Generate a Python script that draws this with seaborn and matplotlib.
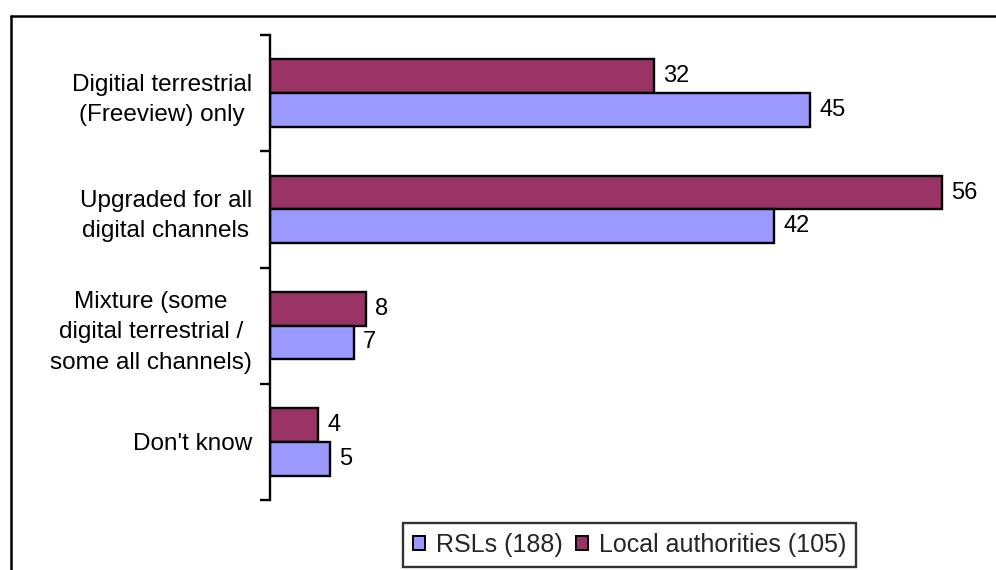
import matplotlib
matplotlib.use("Agg")
import matplotlib.pyplot as plt
from matplotlib.lines import Line2D
from matplotlib.patches import Patch
import pandas as pd
import seaborn as sns

categories = [
    "Digitial terrestrial\n(Freeview) only",
    "Upgraded for all\ndigital channels",
    "Mixture (some\ndigital terrestrial /\nsome all channels)",
    "Don't know",
]
series_names = ["Local authorities (105)", "RSLs (188)"]
local_authorities = [32, 56, 8, 4]
rsls = [45, 42, 7, 5]
colors = {"Local authorities (105)": "#993366", "RSLs (188)": "#9999FF"}

df = pd.DataFrame({
    "category": categories * 2,
    "series": [series_names[0]] * 4 + [series_names[1]] * 4,
    "value": local_authorities + rsls,
})

sns.set_theme(style="white")
plt.rcParams["font.family"] = ["Liberation Sans", "DejaVu Sans"]

W, H = 996, 570
fig = plt.figure(figsize=(W / 100, H / 100), dpi=100)
ax = fig.add_axes([270 / W, (H - 500) / H, 720 / W, 465 / H])

sns.barplot(data=df, y="category", x="value", hue="series",
            hue_order=series_names, order=categories, orient="h",
            palette=colors, saturation=1, width=0.58, edgecolor="black",
            linewidth=1.7, ax=ax, legend=False)

for cont in ax.containers:
    ax.bar_label(cont, padding=6.5, fontsize=17, color="black")

ax.set_xlim(0, 60)
ax.set_ylim(3.5, -0.5)
ax.set_xlabel("")
ax.set_ylabel("")
ax.set_xticks([])

# category labels at band centres, tick marks at band boundaries
ax.set_yticks(range(len(categories)))
ax.set_yticklabels(categories, fontsize=17.5, ha="right", multialignment="center",
                   color="black", linespacing=1.5)
ax.tick_params(axis="y", which="major", length=0, pad=13)
ax.set_yticks([-0.5, 0.5, 1.5, 2.5, 3.5], minor=True)
ax.tick_params(axis="y", which="minor", length=7, width=1.7, color="black",
               direction="out", left=True)

for side in ["top", "right", "bottom"]:
    ax.spines[side].set_visible(False)
ax.spines["left"].set_color("black")
ax.spines["left"].set_linewidth(1.7)

# outer chart frame
fy = (H - 15.5) / H
fx = 10.5 / W
fig.add_artist(Line2D([fx, fx], [0, fy], transform=fig.transFigure,
                      color="black", linewidth=1.8))
fig.add_artist(Line2D([fx, 1], [fy, fy], transform=fig.transFigure,
                      color="black", linewidth=1.8))

handles = [Patch(facecolor=colors["RSLs (188)"], edgecolor="black", linewidth=1.4),
           Patch(facecolor=colors["Local authorities (105)"], edgecolor="black", linewidth=1.4)]
leg = fig.legend(handles, ["RSLs (188)", "Local authorities (105)"],
                 loc="center", bbox_to_anchor=(629.5 / W, 25 / H), ncol=2,
                 fontsize=18, frameon=True, fancybox=False, edgecolor="black",
                 handlelength=0.48, handleheight=0.48, handletextpad=0.44,
                 columnspacing=0.52, borderpad=0.4, borderaxespad=0)
leg.get_frame().set_linewidth(1.7)

fig.savefig("out.png", dpi=100, facecolor="white")
